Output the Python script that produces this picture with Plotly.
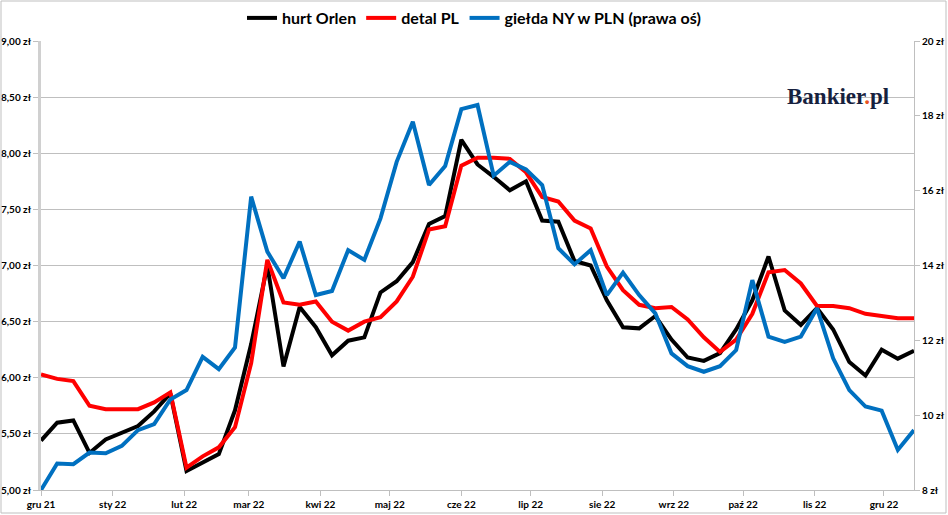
import pandas as pd
import plotly.graph_objects as go

# weekly observations
dates = pd.date_range("2021-12-01", periods=55, freq="7D")

hurt_orlen = [5.44, 5.60, 5.62, 5.33, 5.45, 5.51, 5.57, 5.70, 5.86, 5.17,
              5.25, 5.32, 5.71, 6.30, 7.00, 6.10, 6.63, 6.45, 6.20, 6.33,
              6.36, 6.76, 6.86, 7.03, 7.37, 7.44, 8.12, 7.90, 7.79, 7.67,
              7.75, 7.40, 7.39, 7.04, 7.00, 6.69, 6.45, 6.44, 6.55, 6.34,
              6.18, 6.15, 6.22, 6.43, 6.69, 7.08, 6.60, 6.47, 6.62, 6.43,
              6.14, 6.02, 6.25, 6.17, 6.24]

detal_pl = [6.03, 5.99, 5.97, 5.75, 5.72, 5.72, 5.72, 5.78, 5.87, 5.20,
            5.30, 5.38, 5.56, 6.13, 7.05, 6.67, 6.65, 6.68, 6.50, 6.42,
            6.50, 6.54, 6.68, 6.90, 7.32, 7.35, 7.89, 7.96, 7.96, 7.95,
            7.83, 7.61, 7.57, 7.40, 7.33, 6.99, 6.78, 6.65, 6.62, 6.63,
            6.52, 6.36, 6.23, 6.34, 6.57, 6.94, 6.96, 6.84, 6.64, 6.64,
            6.62, 6.57, 6.55, 6.53, 6.53]

gielda_ny = [8.00, 8.71, 8.69, 9.00, 8.98, 9.18, 9.60, 9.76, 10.42, 10.67,
             11.56, 11.23, 11.81, 15.84, 14.37, 13.66, 14.64, 13.21, 13.32, 14.41,
             14.15, 15.26, 16.77, 17.84, 16.15, 16.66, 18.18, 18.29, 16.40, 16.77,
             16.57, 16.15, 14.46, 14.03, 14.41, 13.21, 13.81, 13.21, 12.72, 11.65,
             11.31, 11.16, 11.31, 11.74, 13.61, 12.10, 11.96, 12.10, 12.86, 11.52,
             10.67, 10.23, 10.12, 9.07, 9.60]

month_ticks = ["2021-12-01", "2022-01-01", "2022-02-01", "2022-03-01", "2022-04-01",
               "2022-05-01", "2022-06-01", "2022-07-01", "2022-08-01", "2022-09-01",
               "2022-10-01", "2022-11-01", "2022-12-01"]
month_labels = ["gru 21", "sty 22", "lut 22", "mar 22", "kwi 22", "maj 22", "cze 22",
                "lip 22", "sie 22", "wrz 22", "paź 22", "lis 22", "gru 22"]

left_ticks = [5.0, 5.5, 6.0, 6.5, 7.0, 7.5, 8.0, 8.5, 9.0]
left_labels = ["5,00 zł", "5,50 zł", "6,00 zł", "6,50 zł", "7,00 zł",
               "7,50 zł", "8,00 zł", "8,50 zł", "9,00 zł"]
right_ticks = [8, 10, 12, 14, 16, 18, 20]
right_labels = ["8 zł", "10 zł", "12 zł", "14 zł", "16 zł", "18 zł", "20 zł"]

W, H = 948, 515
L, R, T, B = 41, 34, 41, 25
pw, ph = W - L - R, H - T - B


def px_x(x):
    return (x - L) / pw


def px_y(y):
    return (H - B - y) / ph


fig = go.Figure()
fig.add_trace(go.Scatter(x=dates, y=hurt_orlen, name="hurt Orlen", mode="lines",
                         line=dict(color="#000000", width=4)))
fig.add_trace(go.Scatter(x=dates, y=detal_pl, name="detal PL", mode="lines",
                         line=dict(color="#ff0000", width=4)))
fig.add_trace(go.Scatter(x=dates, y=gielda_ny, name="giełda NY w PLN (prawa oś)", mode="lines",
                         line=dict(color="#0070c0", width=4), yaxis="y2"))

tickfont = dict(family="Lato, Liberation Sans, sans-serif", size=10, color="#000000", weight="bold")

fig.update_layout(
    width=W, height=H,
    margin=dict(l=L, r=R, t=T, b=B, pad=0, autoexpand=False),
    paper_bgcolor="white", plot_bgcolor="white",
    showlegend=True,
    legend=dict(orientation="h", x=px_x(474), xanchor="center", y=px_y(18), yanchor="middle",
                font=dict(family="Lato, Liberation Sans, sans-serif", size=16,
                          color="#000000", weight="bold"),
                itemwidth=30, tracegroupgap=0, bgcolor="rgba(0,0,0,0)"),
    xaxis=dict(type="date", range=["2021-12-01", "2022-12-14"], automargin=False,
               tickvals=month_ticks, ticktext=month_labels, tickfont=tickfont,
               showgrid=False, showline=True, linecolor="#bfbfbf", linewidth=1,
               ticks="outside", ticklen=5, tickcolor="#bfbfbf", zeroline=False),
    yaxis=dict(range=[5, 9], tickvals=left_ticks, ticktext=left_labels, tickfont=tickfont,
               automargin=False,
               showgrid=True, gridcolor="#bfbfbf", gridwidth=1,
               showline=True, linecolor="#d0d0d0", linewidth=3,
               ticks="outside", ticklen=5, tickcolor="#bfbfbf", zeroline=False),
    yaxis2=dict(range=[8, 20], tickvals=right_ticks, ticktext=right_labels, tickfont=tickfont,
                automargin=False,
                overlaying="y", side="right", showgrid=False,
                showline=True, linecolor="#bfbfbf", linewidth=1,
                ticks="outside", ticklen=5, tickcolor="#bfbfbf", zeroline=False),
)

# white logo box covering gridline
fig.add_shape(type="rect", xref="paper", yref="paper",
              x0=px_x(763), x1=px_x(912), y0=px_y(124), y1=px_y(70),
              fillcolor="white", line=dict(width=0), layer="between")
fig.add_annotation(xref="paper", yref="paper", x=px_x(838), y=px_y(96),
                   xanchor="center", yanchor="middle", showarrow=False,
                   text="Bankier<span style='color:#e8541e'>.</span>pl",
                   font=dict(family="Liberation Serif, DejaVu Serif, serif", size=23,
                             color="#16213e", weight="bold"))

# outer chart border
fig.add_shape(type="rect", xref="paper", yref="paper",
              x0=px_x(1), x1=px_x(946), y0=px_y(513), y1=px_y(1),
              line=dict(color="#bfbfbf", width=1), fillcolor="rgba(0,0,0,0)", layer="above")

fig.write_html("out.html", config={"displayModeBar": False},
               post_script="document.body.style.margin='0';document.body.style.overflow='hidden';")
